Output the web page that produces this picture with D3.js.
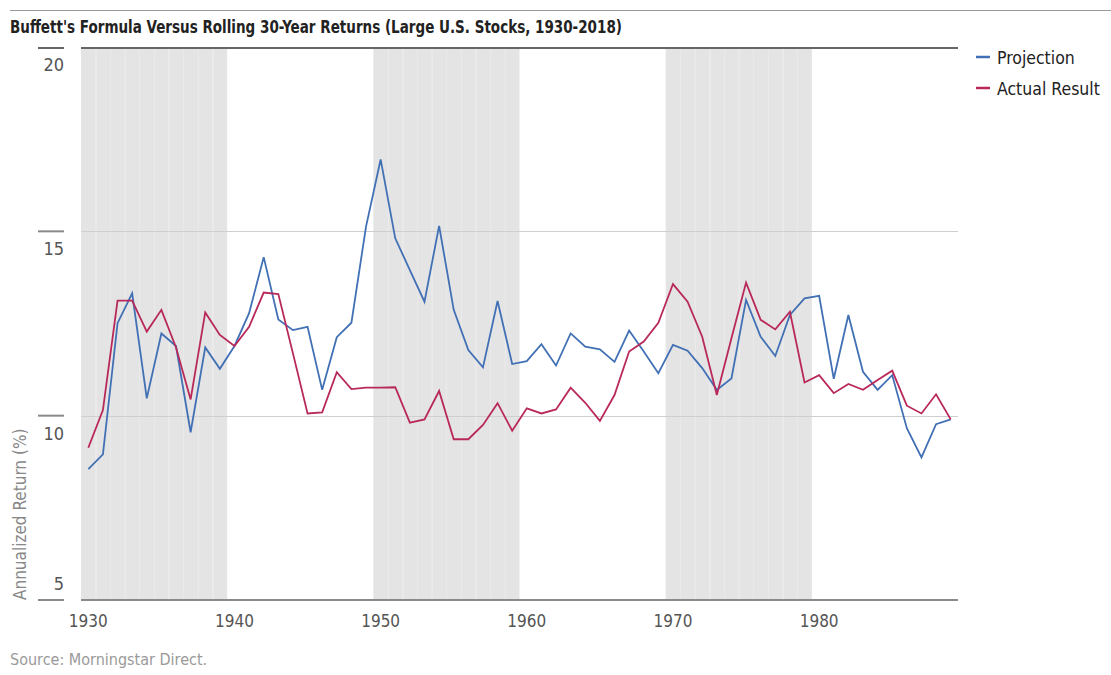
<!DOCTYPE html>
<html>
<head>
<meta charset="utf-8">
<script src="https://cdn.jsdelivr.net/npm/d3@7"></script>
<style>
  body { margin: 0; background: #fff; }
  text { font-family: "Liberation Sans Narrow", "DejaVu Sans Condensed", sans-serif; }
</style>
</head>
<body>
<script>
// years on the x axis, one value each
const years = d3.range(1930, 1990);
const projection = [8.55, 8.95, 12.51, 13.32, 10.47, 12.23, 11.89, 9.55, 11.85, 11.27,
  11.89, 12.78, 14.3, 12.61, 12.32, 12.41, 10.7, 12.13, 12.52, 15.13,
  16.95, 14.81, 13.95, 13.09, 15.15, 12.87, 11.78, 11.31, 13.11, 11.4,
  11.48, 11.94, 11.36, 12.23, 11.87, 11.8, 11.46, 12.31, 11.74, 11.15,
  11.92, 11.76, 11.29, 10.7, 11.01, 13.14, 12.14, 11.62, 12.73, 13.18,
  13.25, 11.0, 12.73, 11.19, 10.7, 11.1, 9.66, 8.87, 9.77, 9.9];
const actual = [9.13, 10.15, 13.12, 13.12, 12.28, 12.87, 11.85, 10.44, 12.8, 12.19,
  11.89, 12.41, 13.34, 13.3, 11.69, 10.06, 10.09, 11.18, 10.72, 10.76,
  10.76, 10.77, 9.81, 9.9, 10.67, 9.36, 9.36, 9.75, 10.34, 9.59,
  10.2, 10.06, 10.17, 10.76, 10.35, 9.86, 10.56, 11.74, 12.01, 12.52,
  13.57, 13.09, 12.14, 10.56, 12.1, 13.61, 12.6, 12.34, 12.82, 10.9,
  11.1, 10.61, 10.86, 10.7, 10.97, 11.22, 10.27, 10.06, 10.58, 9.9];
const shadedDecades = [1930, 1950, 1970];
const xTicks = [1930, 1940, 1950, 1960, 1970, 1980];
const yTicks = [5, 10, 15, 20];

const width = 1111, height = 675;
const plotLeft = 81, plotRight = 958, plotTop = 47, plotBottom = 600;

const svg = d3.select("body").append("svg")
  .attr("width", width).attr("height", height);

const x = d3.scaleBand().domain(years).range([plotLeft, plotRight]).padding(0);
const y = d3.scaleLinear().domain([5, 20]).range([plotBottom, plotTop]);
const cx = d => x(d) + x.bandwidth() / 2;

// header line + title
svg.append("line").attr("x1", 10).attr("x2", width).attr("y1", 10.5).attr("y2", 10.5)
  .attr("stroke", "#9a9a9a").attr("stroke-width", 1);
svg.append("text").attr("x", 10).attr("y", 33)
  .attr("font-size", 18).attr("font-weight", "bold").attr("fill", "#222")
  .attr("textLength", 612).attr("lengthAdjust", "spacingAndGlyphs")
  .text("Buffett's Formula Versus Rolling 30-Year Returns (Large U.S. Stocks, 1930-2018)");

// shaded decades, one cell per year
const shaded = years.filter(yr => shadedDecades.some(d => yr >= d && yr < d + 10));
svg.append("g").selectAll("rect").data(shaded).enter().append("rect")
  .attr("x", d => x(d)).attr("width", x.bandwidth())
  .attr("y", plotTop).attr("height", plotBottom - plotTop)
  .attr("fill", "#e4e4e4");
svg.append("g").selectAll("line").data(shaded.filter(d => d % 10 != 0)).enter().append("line")
  .attr("x1", d => Math.round(x(d)) + 0.5).attr("x2", d => Math.round(x(d)) + 0.5)
  .attr("y1", plotTop).attr("y2", plotBottom)
  .attr("stroke", "#eaeaea").attr("stroke-width", 1);

// gridlines
svg.append("g").selectAll("line").data([10, 15]).enter().append("line")
  .attr("x1", plotLeft).attr("x2", plotRight)
  .attr("y1", d => Math.round(y(d)) + 0.5).attr("y2", d => Math.round(y(d)) + 0.5)
  .attr("stroke", "#cfcfcf").attr("stroke-width", 1);

// top border and bottom axis
svg.append("line").attr("x1", plotLeft).attr("x2", plotRight).attr("y1", y(20) + 1).attr("y2", y(20) + 1)
  .attr("stroke", "#666").attr("stroke-width", 2);
svg.append("line").attr("x1", plotLeft).attr("x2", plotRight).attr("y1", y(5)).attr("y2", y(5))
  .attr("stroke", "#8a8a8a").attr("stroke-width", 2);

// y ticks: short dash with the label below it (above it for the lowest)
const yt = svg.append("g").selectAll("g").data(yTicks).enter().append("g");
yt.append("line").attr("x1", 38).attr("x2", 64)
  .attr("y1", d => y(d) + (d == 20 ? 1 : 0)).attr("y2", d => y(d) + (d == 20 ? 1 : 0))
  .attr("stroke", d => d == 20 ? "#666" : "#8a8a8a").attr("stroke-width", 2);
yt.append("text").attr("x", 64).attr("text-anchor", "end")
  .attr("y", d => d == 5 ? y(d) - 10 : y(d) + 24)
  .attr("font-size", 18).attr("fill", "#555")
  .text(d => d);

svg.append("text").attr("transform", "translate(26," + plotBottom + ") rotate(-90)")
  .attr("font-size", 17).attr("fill", "#888")
  .text("Annualized Return (%)");

// x ticks
svg.append("g").selectAll("text").data(xTicks).enter().append("text")
  .attr("x", d => cx(d)).attr("y", 627).attr("text-anchor", "middle")
  .attr("font-size", 17).attr("fill", "#555")
  .text(d => d);

// lines
const line = d3.line().x((d, i) => cx(years[i])).y(d => y(d));
svg.append("path").datum(projection).attr("d", line)
  .attr("fill", "none").attr("stroke", "#4270b5").attr("stroke-width", 1.8);
svg.append("path").datum(actual).attr("d", line)
  .attr("fill", "none").attr("stroke", "#b8295a").attr("stroke-width", 1.8);

// legend
const legendItems = [{ name: "Projection", color: "#4270b5" }, { name: "Actual Result", color: "#b8295a" }];
const legend = svg.append("g").selectAll("g").data(legendItems).enter().append("g")
  .attr("transform", (d, i) => "translate(976," + (57 + i * 31) + ")");
legend.append("line").attr("x1", 0).attr("x2", 14)
  .attr("stroke", d => d.color).attr("stroke-width", 2.5);
legend.append("text").attr("x", 21).attr("y", 7)
  .attr("font-size", 17.5).attr("fill", "#222")
  .text(d => d.name);

// source
svg.append("text").attr("x", 10).attr("y", 665)
  .attr("font-size", 16).attr("fill", "#9a9a9a")
  .text("Source: Morningstar Direct.");
</script>
</body>
</html>
